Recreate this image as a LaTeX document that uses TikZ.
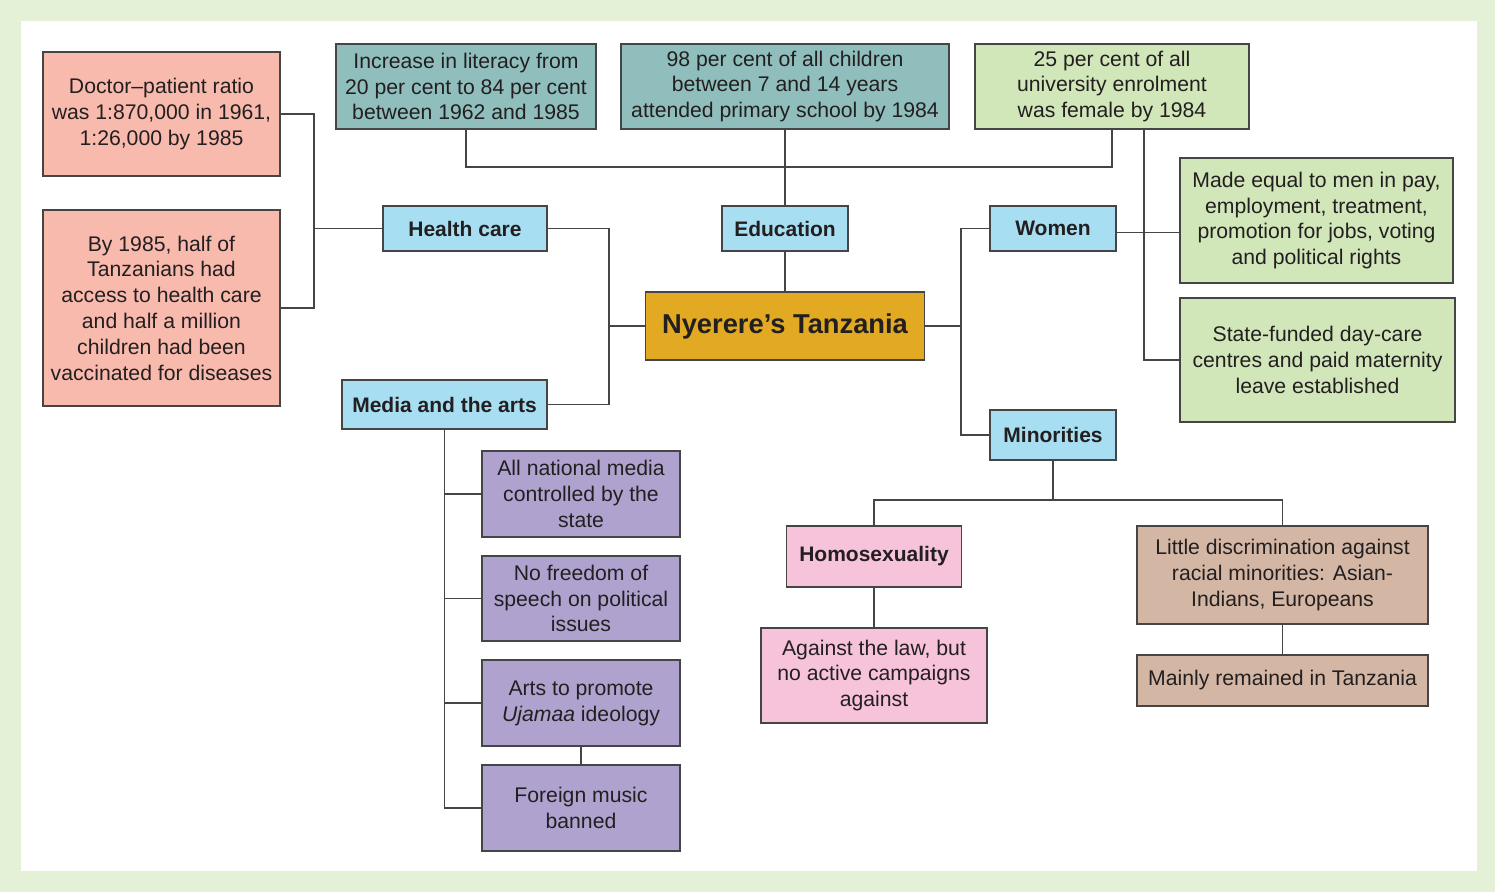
\documentclass[tikz,border=0pt]{standalone}
\usepackage{fontspec}
\setmainfont{Liberation Sans}
\definecolor{bggreen}{HTML}{E5F1D6}
\definecolor{linec}{HTML}{454545}
\definecolor{txt}{HTML}{231F20}
\definecolor{cpink}{HTML}{F9BAAE}
\definecolor{cteal}{HTML}{8FBEBC}
\definecolor{clgreen}{HTML}{D1E6B9}
\definecolor{cblue}{HTML}{A8DEF1}
\definecolor{cgold}{HTML}{E2AA22}
\definecolor{cpurple}{HTML}{AFA2CE}
\definecolor{chomo}{HTML}{F6C3DB}
\definecolor{ctan}{HTML}{D4B6A4}
\tikzset{
  box/.style={draw=linec, line width=1.2pt, inner sep=0pt, align=center, text=txt,
    font=\fontsize{21.2}{25.8}\selectfont},
  head/.style={box, fill=cblue, font=\fontsize{21}{25.8}\selectfont\bfseries},
  conn/.style={draw=linec, line width=1.3pt},
}
\begin{document}
\begin{tikzpicture}[x=1pt,y=-1pt]
\useasboundingbox (0,0) rectangle (1495,892);
\fill[bggreen] (0,0) rectangle (1495,892);
\fill[white] (21,21) rectangle (1477,871);

% left: health
\node[box, fill=cpink, minimum width=237, minimum height=124] (doc) at (161.5,114)
  {Doctor–patient ratio\\was 1:870,000 in 1961,\\1:26,000 by 1985};
\node[box, fill=cpink, minimum width=237, minimum height=196] (byhalf) at (161.5,308)
  {By 1985, half of\\Tanzanians had\\access to health care\\and half a million\\children had been\\vaccinated for diseases};

% top: education
\node[box, fill=cteal, minimum width=260, minimum height=85] (lit) at (466,86.5)
  {Increase in literacy from\\20 per cent to 84 per cent\\between 1962 and 1985};
\node[box, fill=cteal, minimum width=328, minimum height=85] (pri) at (785,86.5)
  {98 per cent of all children\\between 7 and 14 years\\attended primary school by 1984};
\node[box, fill=clgreen, minimum width=274, minimum height=85] (fem) at (1112,86.5)
  {25 per cent of all\\university enrolment\\was female by 1984};

% headings
\node[head, minimum width=164, minimum height=45] (health) at (465,228.5) {Health care};
\node[head, minimum width=126, minimum height=45] (edu) at (785,228.5) {Education};
\node[head, minimum width=126, minimum height=45] (women) at (1053,228.5) {Women};
\node[head, minimum width=205, minimum height=49] (media) at (444.5,404.5) {Media and the arts};
\node[head, minimum width=126, minimum height=50] (minor) at (1053,435) {Minorities};

% centre
\node[box, fill=cgold, minimum width=279, minimum height=68,
  font=\fontsize{27.3}{30}\selectfont\bfseries] (ny) at (785,326) {Nyerere’s Tanzania};

% right: women
\node[box, fill=clgreen, minimum width=273, minimum height=125] (made) at (1316.5,220.5)
  {Made equal to men in pay,\\employment, treatment,\\promotion for jobs, voting\\and political rights};
\node[box, fill=clgreen, minimum width=275, minimum height=124] (state) at (1317.5,360)
  {State-funded day-care\\centres and paid maternity\\leave established};

% media items
\node[box, fill=cpurple, minimum width=198, minimum height=86] (allnat) at (581,494)
  {All national media\\controlled by the\\state};
\node[box, fill=cpurple, minimum width=198, minimum height=85] (nofree) at (581,598.5)
  {No freedom of\\speech on political\\issues};
\node[box, fill=cpurple, minimum width=198, minimum height=86] (arts) at (581,703)
  {Arts to promote\\\textit{Ujamaa} ideology};
\node[box, fill=cpurple, minimum width=198, minimum height=86] (foreign) at (581,808)
  {Foreign music\\banned};

% minorities
\node[box, fill=chomo, minimum width=175, minimum height=61,
  font=\fontsize{21}{25.8}\selectfont\bfseries] (homo) at (874,556.5) {Homosexuality};
\node[box, fill=chomo, minimum width=226, minimum height=95] (against) at (874,675.5)
  {Against the law, but\\no active campaigns\\against};
\node[box, fill=ctan, minimum width=291, minimum height=98] (little) at (1282.5,575)
  {Little discrimination against\\racial minorities: Asian-\\Indians, Europeans};
\node[box, fill=ctan, minimum width=291, minimum height=51] (mainly) at (1282.5,680.5)
  {Mainly remained in Tanzania};

% junctions
\coordinate (hj) at (314,228.5);
\coordinate (mj) at (609,326);
\coordinate (ej) at (785,167);
\coordinate (wj) at (961,326);
\coordinate (mnj) at (1053,500);

% connectors
\draw[conn] (doc.east) -| (hj) |- (byhalf.east);
\draw[conn] (hj) -- (health.west);
\draw[conn] (health.east) -| (mj) |- (media.east);
\draw[conn] (mj) -- (ny.west);
\draw[conn] (lit.south) |- (ej) -| (fem.south);
\draw[conn] (pri.south) -- (edu.north);
\draw[conn] (edu.south) -- (ny.north);
\draw[conn] (ny.east) -- (wj);
\draw[conn] (women.west) -| (wj) |- (minor.west);
\draw[conn] ([yshift=-4pt]women.east) -- ([yshift=-4pt]women.east -| made.west);
\draw[conn] ([xshift=32pt]fem.south) |- (state.west);
\draw[conn] (minor.south) -- (mnj);
\draw[conn] (homo.north) |- (mnj) -| (little.north);
\draw[conn] (homo.south) -- (against.north);
\draw[conn] (little.south) -- (mainly.north);
\draw[conn] (media.south) |- (foreign.west);
\draw[conn] (allnat.west) -- (allnat.west -| media.south);
\draw[conn] (nofree.west) -- (nofree.west -| media.south);
\draw[conn] (arts.west) -- (arts.west -| media.south);
\draw[conn] (arts.south) -- (foreign.north);
\end{tikzpicture}
\end{document}
